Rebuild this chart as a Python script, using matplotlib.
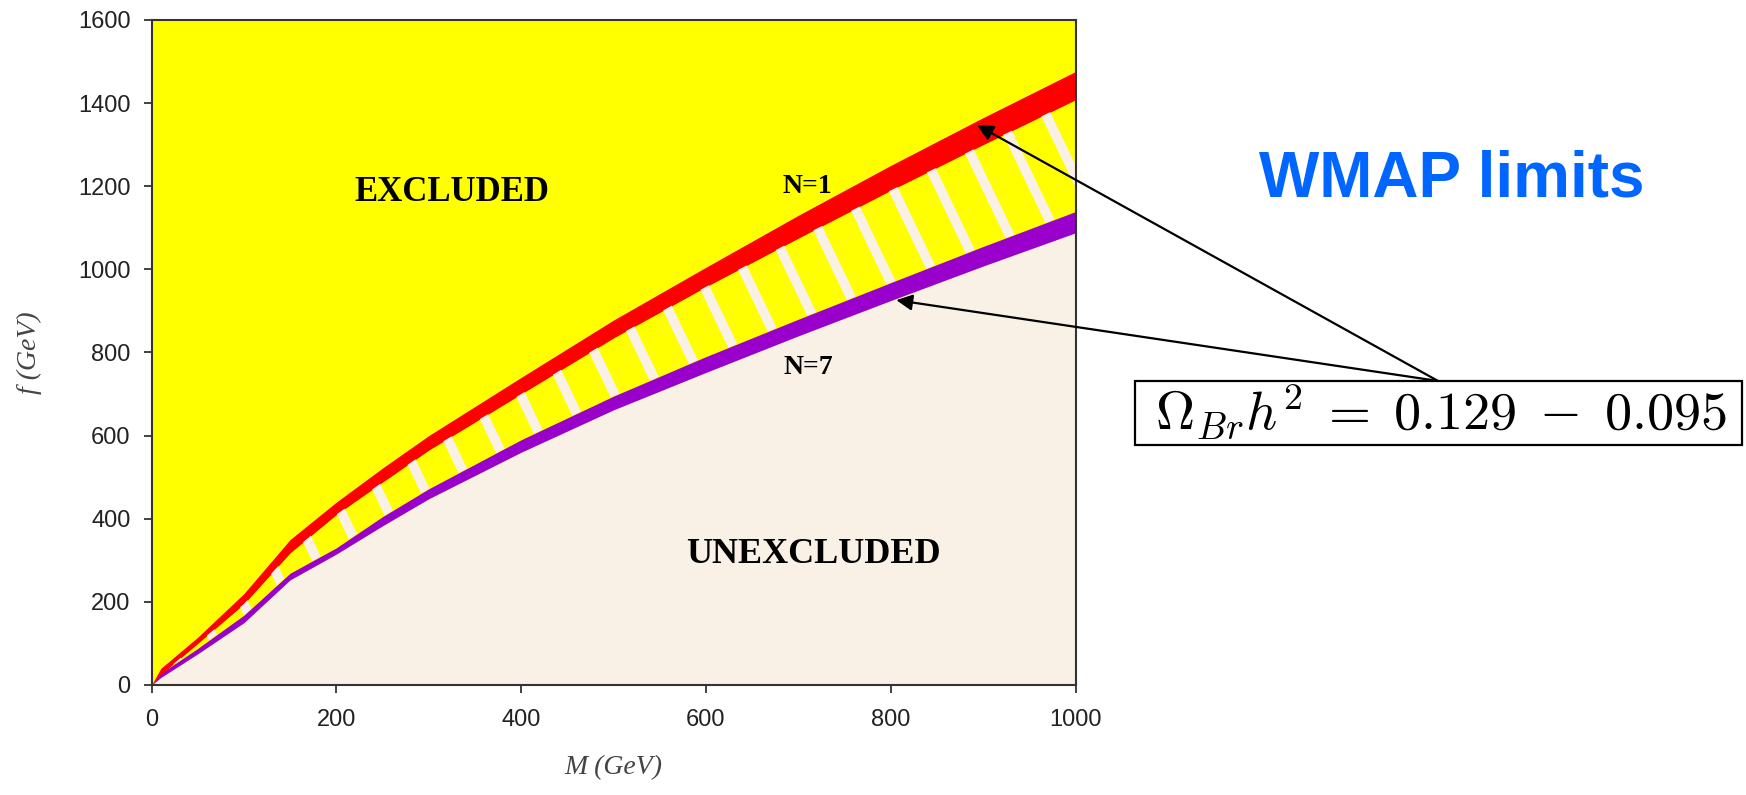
import matplotlib
matplotlib.use("Agg")
import matplotlib.pyplot as plt
import numpy as np
from matplotlib.patches import Polygon, Rectangle

plt.rcParams["mathtext.fontset"] = "cm"

# WMAP band edges (M in GeV, f in GeV)
m_vals = [0, 10, 50, 100, 150, 200, 250, 300, 400, 500, 600, 700, 800, 900, 1000]
n1_hi = [0, 40, 115, 220, 350, 440, 522, 600, 740, 878, 1005, 1130, 1250, 1365, 1476]
n1_lo = [0, 25, 100, 195, 318, 410, 488, 565, 700, 835, 958, 1075, 1190, 1300, 1408]
n7_hi = [0, 28, 88, 168, 269, 330, 405, 472, 590, 695, 790, 880, 968, 1055, 1139]
n7_lo = [0, 18, 75, 150, 253, 315, 383, 448, 560, 662, 752, 840, 925, 1008, 1088]

x_ticks = [0, 200, 400, 600, 800, 1000]
y_ticks = [0, 200, 400, 600, 800, 1000, 1200, 1400, 1600]

YELLOW = "#FFFF00"
RED = "#FF0000"
PURPLE = "#9900CC"
LINEN = "#FAF1E6"

fig = plt.figure(figsize=(17.46, 7.95), dpi=100)
ax = fig.add_axes([0.0868, 0.1384, 0.5292, 0.8365])
ax.set_facecolor(YELLOW)
ax.set_xlim(0, 1000)
ax.set_ylim(0, 1600)

M = np.array(m_vals)
ax.fill_between(M, 0, n7_lo, color=LINEN, lw=0)
ax.fill_between(M, n7_lo, n7_hi, color=PURPLE, lw=0)
ax.fill_between(M, n1_lo, n1_hi, color=RED, lw=0)

# hatched gap between the two bands
gap = Polygon(np.column_stack([np.r_[M, M[::-1]], np.r_[n7_hi, n1_lo[::-1]]]),
              closed=True, fc="none", ec="none")
ax.add_patch(gap)
ff = np.array([-200, 1800])
for c in np.arange(448 - 51 * 10, 448 + 51 * 18, 51):
    ln, = ax.plot(c - 0.2157 * ff, ff, color=LINEN, lw=7, solid_capstyle="butt")
    ln.set_clip_path(gap)

ax.set_xticks(x_ticks)
ax.set_yticks(y_ticks)
ax.tick_params(direction="out", length=6, width=1.3, color="#333333",
               labelsize=17, labelcolor="#222222")
ax.tick_params(axis="y", pad=9)
ax.tick_params(axis="x", pad=11)
for lab in ax.get_xticklabels() + ax.get_yticklabels():
    lab.set_family("Liberation Sans")
for sp in ax.spines.values():
    sp.set_color("#333333")
    sp.set_linewidth(1.5)

ax.set_xlabel("M (GeV)", family="Liberation Serif", style="italic", fontsize=20,
              color="#444444", labelpad=18)
ax.set_ylabel("f (GeV)", family="Liberation Serif", style="italic", fontsize=20,
              color="#444444", labelpad=26)

serif_b = dict(family="Liberation Serif", weight="bold", ha="center", va="center")
ax.text(325, 1184, "EXCLUDED", fontsize=25, **serif_b)
ax.text(716, 313, "UNEXCLUDED", fontsize=26, **serif_b)
ax.text(710, 1199, "N=1", fontsize=20, **serif_b)
ax.text(711, 764, "N=7", fontsize=20, **serif_b)

fig.text(0.8316, 0.7736, "WMAP limits", family="Liberation Sans", weight="bold",
         fontsize=46, color="#0066FF", ha="center", va="center")

fig.patches.append(Rectangle((0.6501, 0.4403), 0.3477, 0.0805, transform=fig.transFigure,
                             fill=False, ec="black", lw=1.6))
fig.text(0.8250, 0.4818, r"$\Omega_{Br}h^2\;=\;0.129\;-\;0.095$", fontsize=39,
         ha="center", va="center")

apex = (0.8236, 0.5208)
for tip in [(893.5, 1347), (806, 926)]:
    ax.annotate("", xy=tip, xycoords="data", xytext=apex, textcoords="figure fraction",
                arrowprops=dict(arrowstyle="-|>", color="black", lw=1.6,
                                mutation_scale=24, shrinkA=0, shrinkB=0),
                annotation_clip=False)

fig.savefig("out.png", dpi=100)
